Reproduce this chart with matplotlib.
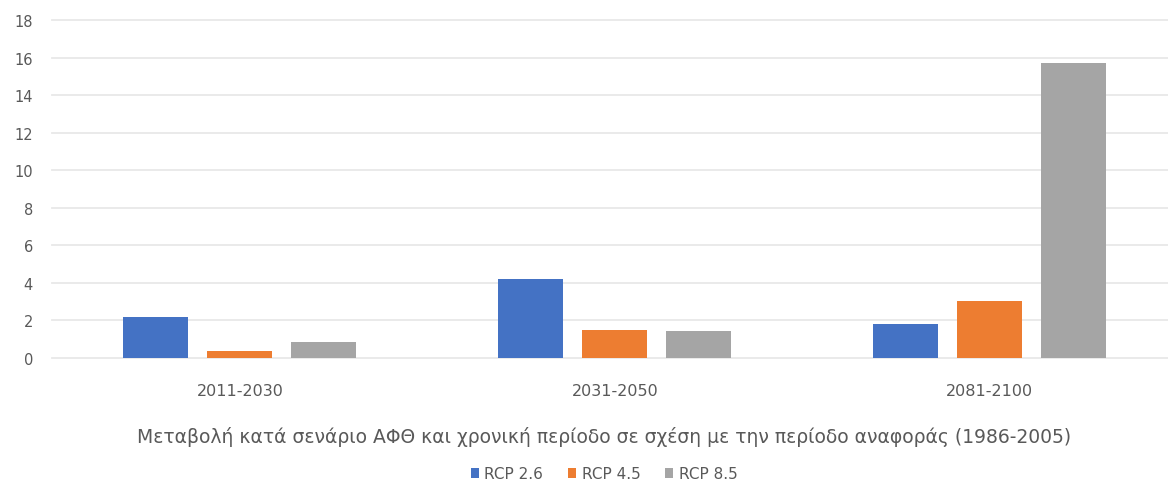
import matplotlib
matplotlib.use("Agg")
import matplotlib.pyplot as plt
import numpy as np

periods = ["2011-2030", "2031-2050", "2081-2100"]
series_names = ["RCP 2.6", "RCP 4.5", "RCP 8.5"]
rcp26 = [2.2, 4.2, 1.8]
rcp45 = [0.4, 1.5, 3.05]
rcp85 = [0.85, 1.45, 15.7]
yticks = [0, 2, 4, 6, 8, 10, 12, 14, 16, 18]
caption = "Μεταβολή κατά σενάριο ΑΦΘ και χρονική περίοδο σε σχέση με την περίοδο αναφοράς (1986-2005)"

colors = ["#4472C4", "#ED7D31", "#A5A5A5"]
text_color = "#595959"

plt.rcParams["font.family"] = ["DejaVu Sans"]

fig = plt.figure(figsize=(11.68, 4.81), dpi=100)
ax = fig.add_axes([0.0449, 0.2536, 0.963, 0.7027])

x = np.arange(len(periods))
width = 0.173
offset = 0.224
for i, (vals, name) in enumerate(zip([rcp26, rcp45, rcp85], series_names)):
    ax.bar(x + (i - 1) * offset, vals, width, color=colors[i], label=name, zorder=3)

ax.set_xlim(-0.5, 2.5)
ax.set_ylim(0, 18)
ax.set_yticks(yticks)
ax.set_xticks(x)
ax.set_xticklabels(periods)
ax.grid(axis="y", color="#E8E8E8", linewidth=1.3, zorder=0)
for gl in ax.get_ygridlines():
    gl.set_clip_on(False)
for s in ax.spines.values():
    s.set_visible(False)
ax.tick_params(axis="both", length=0, colors=text_color)
ax.tick_params(axis="y", pad=14, labelsize=10.5)
ax.tick_params(axis="x", pad=18, labelsize=11.5)

cx = 604 / 1168
fig.text(cx, 1 - 437 / 481, caption, color=text_color, fontsize=13.5,
         ha="center", va="center")

fig.legend(loc="center", bbox_to_anchor=(cx, 1 - 475 / 481), ncol=3, frameon=False,
           fontsize=11, handlelength=0.55, handleheight=0.55, handletextpad=0.35,
           columnspacing=1.6, labelcolor=text_color, borderpad=0)

fig.savefig("out.png", dpi=100, facecolor="white")
